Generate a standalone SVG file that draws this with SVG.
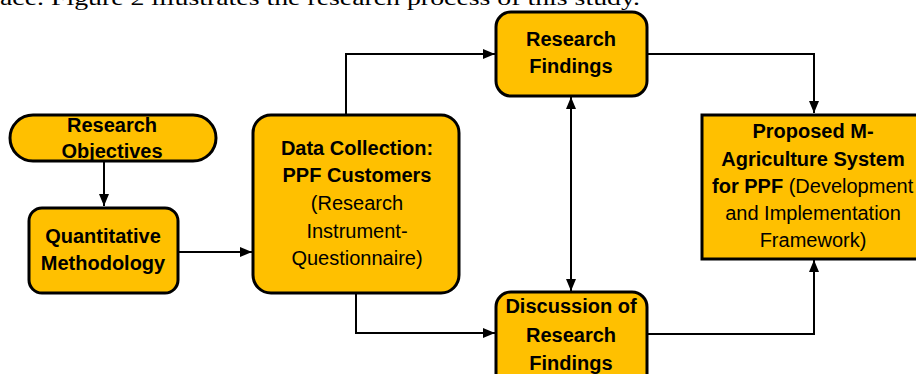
<svg xmlns="http://www.w3.org/2000/svg" width="916" height="374" viewBox="0 0 916 374">
<style>
.box{fill:#FFC000;stroke:#000;stroke-width:3}
.t{font-family:"Liberation Sans",Arial,sans-serif;font-size:20px;fill:#000}
.m{text-anchor:middle}
.s{text-anchor:start}
.b{font-weight:bold}
.c{fill:none;stroke:#000;stroke-width:2}
.cap{font-family:"Liberation Serif","Times New Roman",serif;font-size:21px;fill:#000}
</style>
<defs>
<marker id="ah" viewBox="0 0 12 10" refX="12" refY="5" markerWidth="12" markerHeight="10" markerUnits="userSpaceOnUse" orient="auto-start-reverse">
<path d="M0,0 L12,5 L0,10 Z" fill="#000"/>
</marker>
</defs>
<rect width="916" height="374" fill="#fff"/>
<text class="cap" x="0" y="5" textLength="640" lengthAdjust="spacingAndGlyphs">ace. Figure 2 illustrates the research process of this study.</text>
<g id="connectors">
<path class="c" d="M104,162 V206" marker-end="url(#ah)"/>
<path class="c" d="M178,252 H252" marker-end="url(#ah)"/>
<path class="c" d="M346,114 V54 H495" marker-end="url(#ah)"/>
<path class="c" d="M356,293 V333 H495" marker-end="url(#ah)"/>
<path class="c" d="M571,97 V291" marker-start="url(#ah)" marker-end="url(#ah)"/>
<path class="c" d="M647,54 H814 V113" marker-end="url(#ah)"/>
<path class="c" d="M647,334 H814 V260" marker-end="url(#ah)"/>
</g>
<g id="research-objectives">
<rect class="box" x="10" y="115" width="206" height="46" rx="23"/>
<text class="t m b" x="112" y="132">Research</text>
<text class="t m b" x="112" y="158">Objectives</text>
</g>
<g id="quantitative-methodology">
<rect class="box" x="29" y="208" width="149" height="85" rx="13"/>
<text class="t m b" x="103" y="243">Quantitative</text>
<text class="t m b" x="103" y="270">Methodology</text>
</g>
<g id="data-collection">
<rect class="box" x="253" y="115" width="206" height="178" rx="18"/>
<text class="t m b" x="357" y="155">Data Collection:</text>
<text class="t m b" x="357" y="182">PPF Customers</text>
<text class="t m" x="357" y="210">(Research</text>
<text class="t m" x="357" y="238">Instrument-</text>
<text class="t m" x="357" y="265">Questionnaire)</text>
</g>
<g id="research-findings">
<rect class="box" x="496" y="12" width="151" height="84" rx="15"/>
<text class="t m b" x="571" y="46">Research</text>
<text class="t m b" x="571" y="73">Findings</text>
</g>
<g id="discussion">
<rect class="box" x="496" y="292" width="151" height="100" rx="15"/>
<text class="t m b" x="571" y="313">Discussion of</text>
<text class="t m b" x="571" y="342">Research</text>
<text class="t m b" x="571" y="370">Findings</text>
</g>
<g id="proposed-system">
<rect class="box" x="702" y="115" width="230" height="144"/>
<text class="t m b" x="813" y="138">Proposed M-</text>
<text class="t m b" x="813" y="166">Agriculture System</text>
<text class="t s" x="712" y="193"><tspan font-weight="bold">for PPF</tspan> (Development</text>
<text class="t m" x="813" y="220">and Implementation</text>
<text class="t m" x="813" y="247">Framework)</text>
</g>
</svg>
